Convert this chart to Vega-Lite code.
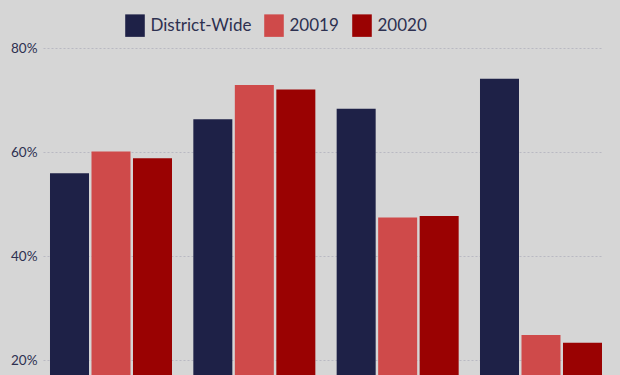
{
  "$schema": "https://vega.github.io/schema/vega-lite/v6.json",
  "width": 559,
  "height": 335,
  "autosize": {"type": "none"},
  "padding": {"left": 43, "top": 40, "right": 18, "bottom": 0},
  "background": "#d6d6d6",
  "config": {
    "view": {"stroke": null},
    "font": "Lato"
  },
  "data": {
    "values": [
      {"group": "Group 1", "series": "District-Wide", "value": 0.560},
      {"group": "Group 1", "series": "20019", "value": 0.602},
      {"group": "Group 1", "series": "20020", "value": 0.589},
      {"group": "Group 2", "series": "District-Wide", "value": 0.664},
      {"group": "Group 2", "series": "20019", "value": 0.730},
      {"group": "Group 2", "series": "20020", "value": 0.721},
      {"group": "Group 3", "series": "District-Wide", "value": 0.684},
      {"group": "Group 3", "series": "20019", "value": 0.475},
      {"group": "Group 3", "series": "20020", "value": 0.478},
      {"group": "Group 4", "series": "District-Wide", "value": 0.742},
      {"group": "Group 4", "series": "20019", "value": 0.249},
      {"group": "Group 4", "series": "20020", "value": 0.234}
    ]
  },
  "mark": {"type": "bar", "clip": true},
  "encoding": {
    "x": {
      "field": "group",
      "type": "nominal",
      "axis": null,
      "scale": {"paddingInner": 0.1488, "paddingOuter": 0.0244, "align": 1}
    },
    "xOffset": {
      "field": "series",
      "type": "nominal",
      "sort": ["District-Wide", "20019", "20020"],
      "scale": {"paddingInner": 0.06, "paddingOuter": 0}
    },
    "y": {
      "field": "value",
      "type": "quantitative",
      "scale": {"domain": [0.1721, 0.8163], "nice": false, "zero": false},
      "axis": {
        "title": null,
        "values": [0.2, 0.4, 0.6, 0.8],
        "format": ".0%",
        "domain": false,
        "ticks": false,
        "labelPadding": 6,
        "labelFont": "Lato",
        "labelFontSize": 13.5,
        "labelColor": "#2d3050",
        "gridColor": "#b9b9c2",
        "gridWidth": 1,
        "gridDash": [2, 2]
      }
    },
    "color": {
      "field": "series",
      "type": "nominal",
      "sort": ["District-Wide", "20019", "20020"],
      "scale": {
        "domain": ["District-Wide", "20019", "20020"],
        "range": ["#1e2147", "#cf4a4a", "#9a0202"]
      },
      "legend": {
        "title": null,
        "orient": "none",
        "direction": "horizontal",
        "legendX": 80.5,
        "legendY": -26,
        "padding": 0,
        "symbolType": "M-0.87,-1L0.87,-1L0.87,1L-0.87,1Z",
        "symbolSize": 506,
        "symbolStrokeWidth": 0,
        "symbolOpacity": 1,
        "labelFont": "Lato",
        "labelFontSize": 17,
        "labelColor": "#2d3050",
        "labelOffset": 4,
        "columnPadding": 11
      }
    }
  }
}
